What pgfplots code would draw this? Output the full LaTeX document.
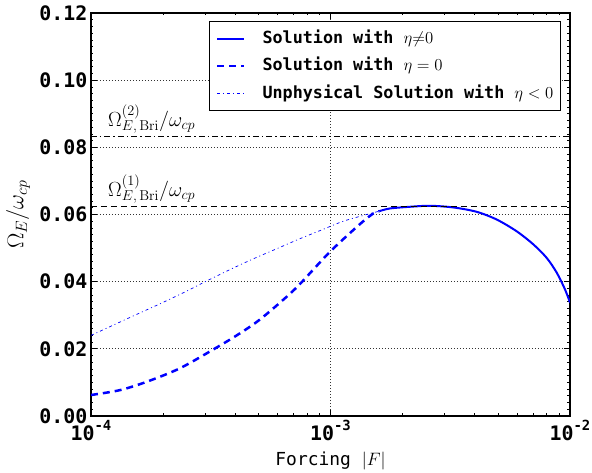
\RequirePackage{fix-cm}
\documentclass[border=0pt]{standalone}
\usepackage{pgfplots}
\pgfplotsset{compat=1.18}
\usepackage[no-math]{fontspec}
\setmainfont{DejaVu Sans Mono}

\newcommand\tp[1]{10\raisebox{10bp}{\fontsize{14}{14}\selectfont -#1}}

\begin{document}
\begin{tikzpicture}
\useasboundingbox (-91bp,-57bp) rectangle (501bp,416bp);
\begin{axis}[
    at={(0,0)}, anchor=south west,
    scale only axis, width=479bp, height=403bp,
    xmode=log, xmin=1e-4, xmax=1e-2,
    ymin=0, ymax=0.12,
    xtick={1e-4,1e-3,1e-2},
    xticklabels={\tp{4},\tp{3},\tp{2}},
    ytick={0,0.02,0.04,0.06,0.08,0.10,0.12},
    yticklabels={0.00,0.02,0.04,0.06,0.08,0.10,0.12},
    minor y tick num=9,
    ticklabel style={font=\fontsize{20}{20}\selectfont\bfseries},
    xticklabel style={anchor=base, yshift=-24bp},
    major tick length=6bp, minor tick length=2.5bp,
    every tick/.style={black, line width=0.7bp},
    axis line style={line width=1.2bp},
    grid=major,
    major grid style={black!80, line width=0.8bp, dash pattern=on 1bp off 2bp},
    xlabel={Forcing $|F|$},
    xlabel style={font=\fontsize{18}{18}\selectfont, at={(axis description cs:0.5,0)}, anchor=base, yshift=-49bp},
    ylabel={$\Omega_E/\omega_{cp}$},
    ylabel style={font=\fontsize{23}{23}\selectfont, at={(axis description cs:-0.152,0.5)}, anchor=center},
    legend style={at={(0.981,0.980)}, anchor=north east, draw=black, line width=1bp,
        font=\fontsize{16.8}{20}\selectfont\bfseries,
        nodes={inner sep=0bp, text height=13bp, text depth=4bp},
        row sep=10.5bp, column sep=17bp, inner xsep=7bp, inner ysep=8.5bp},
    legend cell align=left,
    legend image code/.code={\draw[#1] (0bp,0bp) -- (27bp,0bp);},
]

\addplot[blue, line width=2bp, smooth] coordinates {
    (1.6e-3, 0.0610)
    (1.772e-3, 0.0618)
    (2.148e-3, 0.0623)
    (2.6e-3, 0.0626)
    (3.26e-3, 0.0621)
    (4.077e-3, 0.0608)
    (4.943e-3, 0.0585)
    (5.99e-3, 0.0550)
    (7.03e-3, 0.0511)
    (7.99e-3, 0.0471)
    (8.80e-3, 0.0427)
    (9.53e-3, 0.0377)
    (1e-2, 0.0338)
};
\addlegendentry{Solution with $\eta{\neq}0$}

\addplot[blue, line width=2.5bp, dash pattern=on 7bp off 5bp, smooth] coordinates {
    (1e-4, 0.00625)
    (1.32e-4, 0.0077)
    (1.71e-4, 0.0102)
    (2.35e-4, 0.0142)
    (3.294e-4, 0.0201)
    (4.058e-4, 0.0240)
    (4.919e-4, 0.0280)
    (5.962e-4, 0.0329)
    (7.225e-4, 0.0383)
    (8.757e-4, 0.0447)
    (9.95e-4, 0.0489)
    (1.169e-3, 0.0536)
    (1.371e-3, 0.0580)
    (1.509e-3, 0.0603)
    (1.6e-3, 0.0610)
};
\addlegendentry{Solution with $\eta=0$}

\addplot[blue, line width=0.7bp, dash pattern=on 3bp off 3bp on 1bp off 3bp, smooth] coordinates {
    (1e-4, 0.0240)
    (1.20e-4, 0.0266)
    (1.502e-4, 0.0298)
    (1.941e-4, 0.0334)
    (2.429e-4, 0.0367)
    (3.042e-4, 0.0402)
    (3.805e-4, 0.0436)
    (4.762e-4, 0.0468)
    (5.962e-4, 0.0498)
    (7.459e-4, 0.0528)
    (9.331e-4, 0.0556)
    (1.131e-3, 0.0580)
    (1.416e-3, 0.0600)
    (1.6e-3, 0.0610)
};
\addlegendentry{Unphysical Solution with $\eta<0$}

\addplot[black, line width=1bp, dash pattern=on 6bp off 4bp, forget plot] coordinates {(1e-4,0.0625) (1e-2,0.0625)};
\addplot[black, line width=1bp, dash pattern=on 6bp off 3bp on 1.5bp off 3bp, forget plot] coordinates {(1e-4,0.0833) (1e-2,0.0833)};

\node[anchor=base west, inner sep=0, font=\fontsize{20.5}{20.5}\selectfont] at (axis cs:1.178e-4,0.0655) {$\Omega^{(1)}_{E,\,\mathrm{Bri}}/\omega_{cp}$};
\node[anchor=base west, inner sep=0, font=\fontsize{20.5}{20.5}\selectfont] at (axis cs:1.178e-4,0.0863) {$\Omega^{(2)}_{E,\,\mathrm{Bri}}/\omega_{cp}$};
\end{axis}
\end{tikzpicture}
\end{document}
